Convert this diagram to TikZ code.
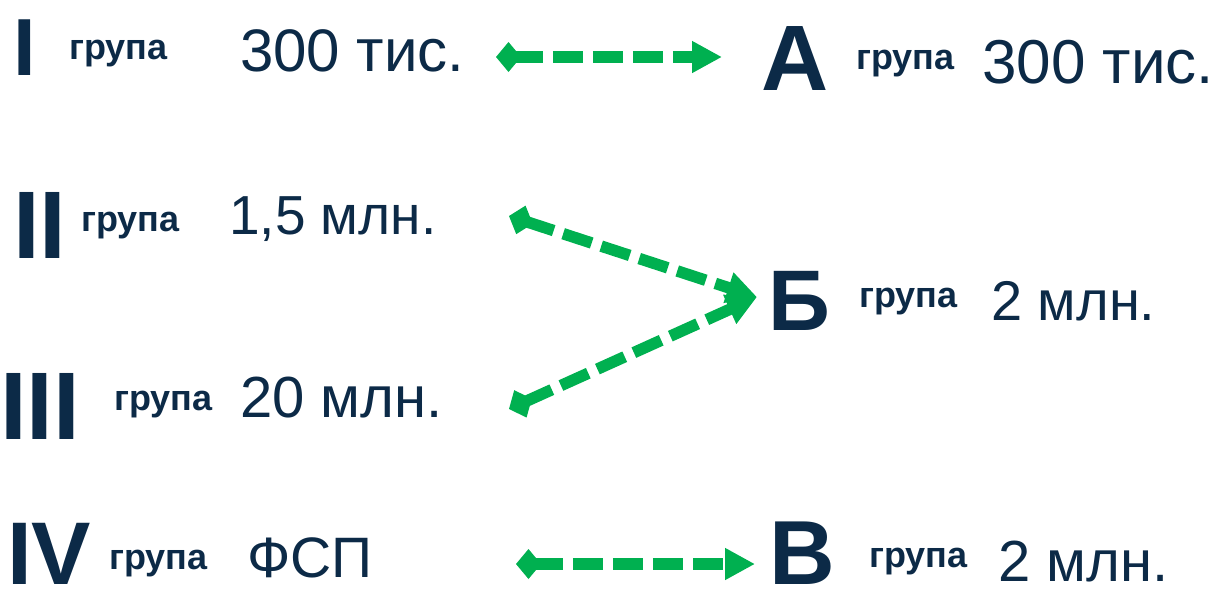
\documentclass[tikz,border=0pt]{standalone}
\usepackage{fontspec}
\setmainfont{Liberation Sans}
\usetikzlibrary{arrows.meta}
\definecolor{navy}{RGB}{12,42,71}
\definecolor{grn}{RGB}{0,176,80}
\newcommand{\fs}[1]{\fontsize{#1}{#1}\selectfont}
\tikzset{
  txt/.style={anchor=base west, inner sep=0pt, text=navy, text depth=0pt},
  big/.style={txt, font=\bfseries\fs{#1}},
  grp/.style={txt, font=\bfseries\fs{36}},
  val/.style={txt, font=\fs{#1}},
  link/.style={draw=grn, line width=11.5pt, dash pattern=on 30pt off 10pt,
    {Turned Square[length=25pt,width=30pt]}-{Triangle[length=30pt,width=30pt]}},
}
\begin{document}
\begin{tikzpicture}[x=1pt,y=-1pt]
\useasboundingbox (0,0) rectangle (1218,590);
% left column
\node[big=81] (r1) at (13,75) {I};
\node[grp] (g1) at (69,59) {група};
\node[val=60] (v1) at (240,71) {300 тис.};
\node[big=96] (r2) at (13,258) {II};
\node[grp] (g2) at (81,231) {група};
\node[val=55] (v2) at (229,234) {1,5 млн.};
\node[big=96] (r3) at (0,439) {III};
\node[grp] (g3) at (114,410) {група};
\node[val=58] (v3) at (240,417) {20 млн.};
\node[big=89] (r4) at (7,584) {IV};
\node[grp] (g4) at (109,569) {група};
\node[val=57] (v4) at (247,577) {ФСП};
% right column
\node[big=93] (ra) at (761,90) {А};
\node[grp] (ga) at (856,69) {група};
\node[val=62] (va) at (982,83) {300 тис.};
\node[big=86] (rb) at (768,330) {Б};
\node[grp] (gb) at (859,307) {група};
\node[val=56] (vb) at (991,320) {2 млн.};
\node[big=91] (rc) at (769,584) {В};
\node[grp] (gc) at (869,567) {група};
\node[val=58] (vc) at (998,581) {2 млн.};
% arrow end points
\coordinate (a1s) at (496,57);
\coordinate (a1e) at (722,57);
\coordinate (a2s) at (509,216);
\coordinate (a3s) at (509,409);
\coordinate (abe) at (757,297);
\coordinate (a4s) at (516,564);
\coordinate (a4e) at (755,564);
\draw[link] (a1s) -- (a1e);
\draw[link] (a2s) -- (abe);
\draw[link] (a3s) -- (abe);
\draw[link] (a4s) -- (a4e);
\end{tikzpicture}
\end{document}
